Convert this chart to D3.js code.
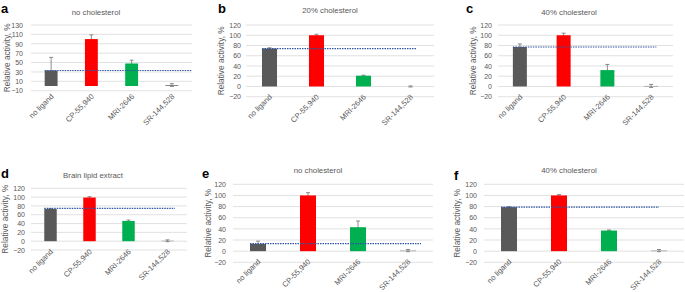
<!DOCTYPE html>
<html>
<head>
<meta charset="utf-8">
<script src="https://cdn.jsdelivr.net/npm/d3@7"></script>
<style>
  body { margin: 0; background: #fff; }
  text { font-family: "Liberation Sans", Arial, sans-serif; }
</style>
</head>
<body>
<div id="chart"></div>
<script>
// categories shared by all six panels
const categories = ["no ligand", "CP-55,940", "MRI-2646", "SR-144,528"];
const panelLetters = ["a", "b", "c", "d", "e", "f"];
const panelTitles = ["no cholesterol", "20% cholesterol", "40% cholesterol",
                     "Brain lipid extract", "no cholesterol", "40% cholesterol"];

// relative activity, %
const activityA = [33, 100, 48, 2];
const activityB = [74, 100, 21, 0];
const activityC = [77, 100, 32, 1];
const activityD = [73, 99, 46, 1];
const activityE = [13, 100, 43, 1];
const activityF = [79, 100, 37, 1];

// error bar sizes
const errorA = [28, 9, 7, 3];
const errorB = [1.5, 2, 1, 1];
const errorC = [6, 4, 11, 3];
const errorD = [1, 2, 2, 2];
const errorE = [5, 5, 11, 2];
const errorF = [1, 1.5, 1, 2];

// level of the dotted "no ligand" reference line
const referenceLevels = [33, 74, 77, 74.5, 13.5, 79];

// value axis ticks
const ticksA = [-10, 10, 30, 50, 70, 90, 110, 130];
const ticksOther = [-20, 0, 20, 40, 60, 80, 100, 120];

const barColors = ["#595959", "#ff0000", "#00b050", "#7f7f7f"];

const panels = [
    { values: activityA, errors: errorA, ticks: ticksA },
    { values: activityB, errors: errorB, ticks: ticksOther },
    { values: activityC, errors: errorC, ticks: ticksOther },
    { values: activityD, errors: errorD, ticks: ticksOther },
    { values: activityE, errors: errorE, ticks: ticksOther },
    { values: activityF, errors: errorF, ticks: ticksOther }
];

// where each panel sits on the page
const layout = [
    { x0: 31,  x1: 192, yTop: 25,    yBot: 90.7,  pad: 8, titleX: 96,  titleY: 14.5, letterX: 1,   letterY: 13,  labelX: 9.5, refEnd: 4.0 },
    { x0: 246, x1: 434, yTop: 25,    yBot: 96.7,  pad: 5, titleX: 330, titleY: 12.5, letterX: 218, letterY: 13,  labelX: 224, refEnd: 3.62 },
    { x0: 498, x1: 673, yTop: 25,    yBot: 96.7,  pad: 6, titleX: 569, titleY: 14.5, letterX: 466, letterY: 13,  labelX: 476, refEnd: 3.62 },
    { x0: 31,  x1: 187, yTop: 188.3, yBot: 250,   pad: 6, titleX: 93,  titleY: 178,  letterX: 1,   letterY: 178, labelX: 8,   refEnd: 3.69 },
    { x0: 233, x1: 433, yTop: 184.3, yBot: 262.3, pad: 7, titleX: 318, titleY: 173,  letterX: 202, letterY: 178, labelX: 211, refEnd: 3.76 },
    { x0: 484, x1: 684, yTop: 184.3, yBot: 262.3, pad: 7, titleX: 569, titleY: 173,  letterX: 454, letterY: 180, labelX: 459.5, refEnd: 3.5 }
];

const svg = d3.select("#chart")
    .append("svg")
    .attr("width", 685)
    .attr("height", 292)
    .style("background", "#fff");

const textColor = "#595959";

panels.forEach((p, i) => {
    const L = layout[i];
    const g = svg.append("g");

    const x = d3.scaleBand()
        .domain(categories)
        .range([L.x0, L.x1])
        .paddingInner(0)
        .paddingOuter(0);

    const y = d3.scaleLinear()
        .domain([p.ticks[0], p.ticks[p.ticks.length - 1]])
        .range([L.yBot, L.yTop]);

    const barW = x.bandwidth() * 0.32;

    // gridlines
    g.selectAll(".grid")
        .data(p.ticks)
        .join("line")
        .attr("x1", L.x0)
        .attr("x2", L.x1)
        .attr("y1", d => y(d))
        .attr("y2", d => y(d))
        .attr("stroke", "#d9d9d9")
        .attr("stroke-width", 0.8);

    // value axis (labels only)
    const yAxis = g.append("g")
        .attr("transform", "translate(" + L.x0 + ",0)")
        .call(d3.axisLeft(y).tickValues(p.ticks).tickSize(0).tickPadding(L.pad));
    yAxis.select(".domain").remove();
    yAxis.selectAll("text")
        .attr("fill", textColor)
        .style("font-size", "7px");

    // error bars drawn first so the lower half hides behind the bar
    const cap = 2;
    const eb = g.selectAll(".err")
        .data(categories.map((c, k) => ({ cat: c, v: p.values[k], e: p.errors[k] })))
        .join("g")
        .attr("stroke", "#808080")
        .attr("stroke-width", 0.9);
    eb.append("line")
        .attr("x1", d => x(d.cat) + x.bandwidth() / 2)
        .attr("x2", d => x(d.cat) + x.bandwidth() / 2)
        .attr("y1", d => y(d.v - d.e))
        .attr("y2", d => y(d.v + d.e));
    eb.append("line")
        .attr("x1", d => x(d.cat) + x.bandwidth() / 2 - cap)
        .attr("x2", d => x(d.cat) + x.bandwidth() / 2 + cap)
        .attr("y1", d => y(d.v + d.e))
        .attr("y2", d => y(d.v + d.e));
    eb.append("line")
        .attr("x1", d => x(d.cat) + x.bandwidth() / 2 - cap)
        .attr("x2", d => x(d.cat) + x.bandwidth() / 2 + cap)
        .attr("y1", d => y(d.v - d.e))
        .attr("y2", d => y(d.v - d.e));

    // bars
    g.selectAll(".bar")
        .data(categories.map((c, k) => ({ cat: c, v: p.values[k], k: k })))
        .join("rect")
        .attr("x", d => x(d.cat) + (x.bandwidth() - barW) / 2)
        .attr("y", d => Math.min(y(d.v), y(0)))
        .attr("width", barW)
        .attr("height", d => Math.abs(y(0) - y(d.v)))
        .attr("fill", d => barColors[d.k]);

    // dotted reference line at the "no ligand" level
    g.append("line")
        .attr("x1", x(categories[0]) + (x.bandwidth() - barW) / 2)
        .attr("x2", L.x0 + x.bandwidth() * L.refEnd)
        .attr("y1", y(referenceLevels[i]))
        .attr("y2", y(referenceLevels[i]))
        .attr("stroke", "#2f55a4")
        .attr("stroke-width", 1.2)
        .attr("stroke-dasharray", "1.5,1");

    // category labels, rotated, hung from the zero line
    g.selectAll(".cat")
        .data(categories)
        .join("text")
        .attr("transform", d => "translate(" + (x(d) + x.bandwidth() / 2 + 3) + "," + (y(0) + 11) + ") rotate(-45)")
        .attr("text-anchor", "end")
        .attr("fill", textColor)
        .style("font-size", "7.6px")
        .text(d => d);

    // axis title
    g.append("text")
        .attr("transform", "translate(" + L.labelX + "," + ((L.yTop + L.yBot) / 2) + ") rotate(-90)")
        .attr("text-anchor", "middle")
        .attr("fill", textColor)
        .style("font-size", "8.3px")
        .text("Relative activity, %");

    // panel title
    g.append("text")
        .attr("x", L.titleX)
        .attr("y", L.titleY)
        .attr("text-anchor", "middle")
        .attr("fill", textColor)
        .style("font-size", "7.8px")
        .text(panelTitles[i]);

    // panel letter
    g.append("text")
        .attr("x", L.letterX)
        .attr("y", L.letterY)
        .attr("fill", "#000")
        .style("font-size", "13px")
        .style("font-weight", "bold")
        .text(panelLetters[i]);
});
</script>
</body>
</html>
